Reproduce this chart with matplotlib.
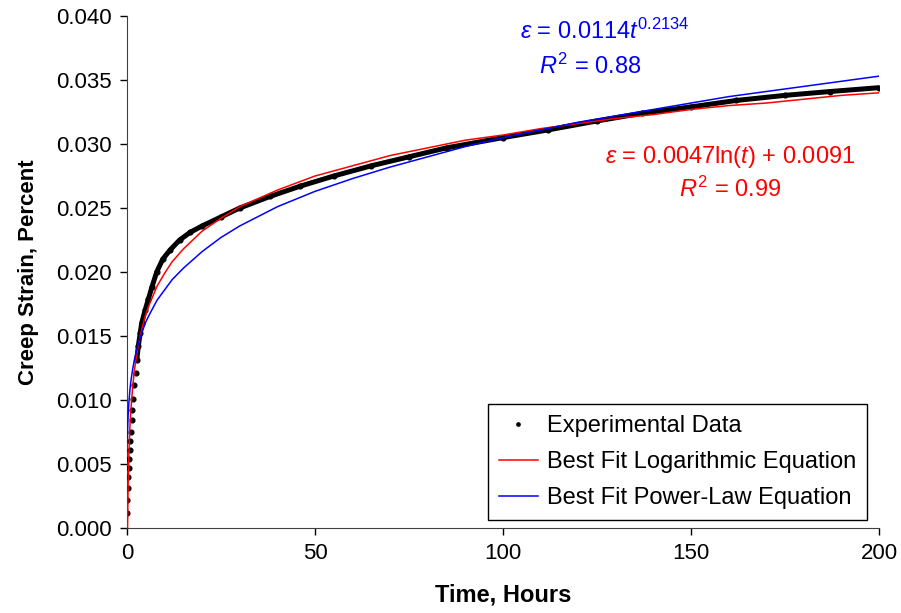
import matplotlib
matplotlib.use("Agg")
import matplotlib.pyplot as plt

plt.rcParams['font.family'] = ['Liberation Sans', 'DejaVu Sans']
plt.rcParams['mathtext.fontset'] = 'custom'
plt.rcParams['mathtext.rm'] = 'Liberation Sans'
plt.rcParams['mathtext.it'] = 'Liberation Sans:italic'

t_exp = [0.05, 0.1, 0.3, 0.35, 0.45, 0.5, 0.75, 0.9, 1.05, 1.2, 1.4, 1.65, 1.95,
         2.3, 2.6, 3.0, 3.5, 3.9, 4.8, 5.7, 6.6, 7.9, 9.5, 11.4, 14, 16.8, 20,
         25, 30, 38, 46, 55, 65, 75, 85, 100, 112, 125, 137, 150, 162, 175, 187, 200]
y_exp = [0.0012, 0.0022, 0.0031, 0.0040, 0.0047, 0.0054, 0.0061, 0.0068, 0.0075,
         0.0084, 0.0092, 0.0101, 0.0112, 0.0121, 0.0131, 0.0142, 0.0152, 0.0160,
         0.0170, 0.0179, 0.0188, 0.0200, 0.0210, 0.0217, 0.0225, 0.0231, 0.0236,
         0.0243, 0.0250, 0.0259, 0.0267, 0.0275, 0.0283, 0.0290, 0.0297, 0.0305,
         0.0311, 0.0318, 0.0324, 0.0329, 0.0334, 0.0338, 0.0341, 0.0344]

# fitted curves
t_fit = [0.1, 0.14, 0.3, 0.5, 0.75, 1, 1.5, 2, 3, 4, 5, 6, 8, 10, 12, 15, 20, 25,
         30, 40, 50, 60, 70, 80, 90, 100, 110, 120, 130, 140, 150, 160, 170, 180,
         190, 200]
y_log = [None, 0.0000, 0.0034, 0.0058, 0.0078, 0.0091, 0.0110, 0.0124, 0.0143,
         0.0156, 0.0167, 0.0175, 0.0189, 0.0199, 0.0208, 0.0218, 0.0232, 0.0242,
         0.0251, 0.0264, 0.0275, 0.0283, 0.0291, 0.0297, 0.0303, 0.0307, 0.0312,
         0.0316, 0.0320, 0.0323, 0.0327, 0.0330, 0.0332, 0.0335, 0.0338, 0.0340]
y_pow = [0.0070, 0.0075, 0.0088, 0.0098, 0.0107, 0.0114, 0.0124, 0.0132, 0.0144,
         0.0153, 0.0161, 0.0167, 0.0178, 0.0186, 0.0194, 0.0203, 0.0216, 0.0227,
         0.0236, 0.0251, 0.0263, 0.0273, 0.0282, 0.0290, 0.0298, 0.0305, 0.0311,
         0.0317, 0.0322, 0.0327, 0.0332, 0.0337, 0.0341, 0.0345, 0.0349, 0.0353]

fig = plt.figure(figsize=(9.01, 6.13), dpi=100)
ax = fig.add_axes([127 / 901, 85 / 613, 752 / 901, 512 / 613])

# dots everywhere, plus a thick band where the measurements are dense
ax.plot(t_exp, y_exp, 'o', ms=3.4, color='black', label='Experimental Data', zorder=3)
dense = t_exp.index(2.6)
ax.plot(t_exp[dense:], y_exp[dense:], '-', lw=3.6, color='black', zorder=3)

log_pts = [(t, y) for t, y in zip(t_fit, y_log) if y is not None]
ax.plot([p[0] for p in log_pts], [p[1] for p in log_pts], color='#ff0000', lw=1.1,
        label='Best Fit Logarithmic Equation', zorder=4)
ax.plot(t_fit, y_pow, color='#0000ff', lw=1.1, label='Best Fit Power-Law Equation', zorder=4)

ax.set_xlim(0, 200)
ax.set_ylim(0, 0.040)
ax.set_xticks([0, 50, 100, 150, 200])
ax.set_yticks([i * 0.005 for i in range(9)])
ax.set_yticklabels(['%.3f' % (i * 0.005) for i in range(9)])
ax.tick_params(direction='out', length=5, width=1, labelsize=16, colors='black', pad=6)
ax.spines['top'].set_visible(False)
ax.spines['right'].set_visible(False)
for s in ('left', 'bottom'):
    ax.spines[s].set_color('#404040')

ax.set_xlabel('Time, Hours', fontsize=17, fontweight='bold', labelpad=14)
ax.set_ylabel('Creep Strain, Percent', fontsize=16, fontweight='bold', labelpad=12)

ax.text(0.636, 0.97, r'$\varepsilon$ = 0.0114$t^{\mathrm{0.2134}}$', transform=ax.transAxes,
        color='#0000ff', fontsize=17, ha='center', va='center')
ax.text(0.616, 0.902, r'$R^{\mathrm{2}}$ = 0.88', transform=ax.transAxes,
        color='#0000ff', fontsize=17, ha='center', va='center')
ax.text(0.802, 0.725, r'$\varepsilon$ = 0.0047ln($t$) + 0.0091', transform=ax.transAxes,
        color='#ff0000', fontsize=17, ha='center', va='center')
ax.text(0.802, 0.662, r'$R^{\mathrm{2}}$ = 0.99', transform=ax.transAxes,
        color='#ff0000', fontsize=17, ha='center', va='center')

leg = ax.legend(loc='lower right', bbox_to_anchor=(0.984, 0.0156), borderaxespad=0,
                fontsize=17, fancybox=False, framealpha=1, edgecolor='black',
                handlelength=1.65, handletextpad=0.4, markerscale=0.7,
                borderpad=0.45, labelspacing=0.6)
leg.get_frame().set_linewidth(1)

fig.savefig('out.png', dpi=100)
